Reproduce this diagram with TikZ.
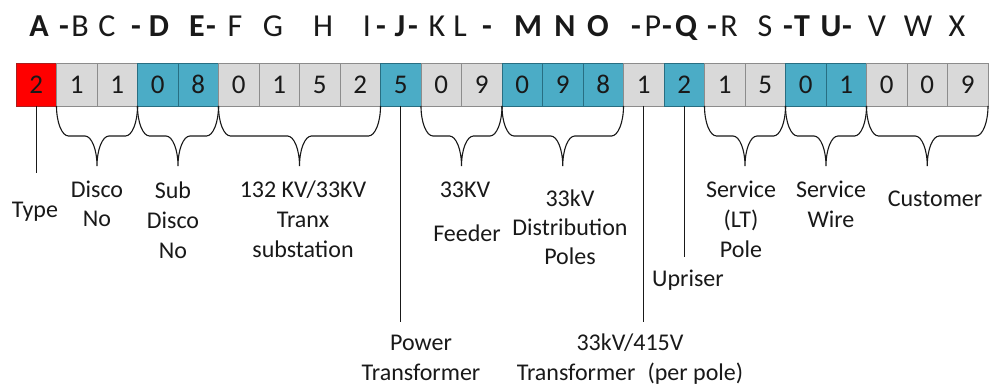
\documentclass[tikz,border=0pt]{standalone}
\usepackage{fontspec}
\setmainfont{Carlito}
\usetikzlibrary{calc}
\definecolor{cred}{RGB}{255,0,0}
\definecolor{credb}{RGB}{170,30,30}
\definecolor{cblue}{RGB}{75,172,198}
\definecolor{cblueb}{RGB}{40,110,130}
\definecolor{cgrey}{RGB}{217,217,217}
\definecolor{cgreyb}{RGB}{140,140,140}
\definecolor{ink}{RGB}{25,25,25}
\newcommand\stack[1]{\begin{tabular}[t]{@{}c@{}}#1\end{tabular}}
\newcommand\cbrace[2]{%
  \draw[ln] let \p1=(#1.south west), \p2=(#2.south east),
    \p3=($(#1.south west)!0.5!(#2.south east)$) in
    (\p1) .. controls (\x1,\y1-16.5pt) and (\x1+5.4pt,\y1-30pt) .. (\x1+12pt,\y1-30pt)
    -- (\x3-12pt,\y1-30pt) .. controls (\x3-5.4pt,\y1-30pt) and (\x3,\y1-43.5pt) .. (\x3,\y1-60pt)
    .. controls (\x3,\y1-43.5pt) and (\x3+5.4pt,\y1-30pt) .. (\x3+12pt,\y1-30pt)
    -- (\x2-12pt,\y1-30pt) .. controls (\x2-5.4pt,\y1-30pt) and (\x2,\y1-16.5pt) .. (\p2);%
}
\tikzset{
  cell/.style={minimum width=40.5pt, minimum height=43pt, inner sep=0pt, outer sep=0pt,
    line width=0.8pt, text=ink, font=\fontsize{27}{27}\selectfont},
  red/.style={fill=cred, draw=credb},
  blu/.style={fill=cblue, draw=cblueb},
  gry/.style={fill=cgrey, draw=cgreyb},
  hdr/.style={anchor=base, inner sep=0pt, text=ink, font=\fontsize{32}{32}\selectfont},
  lab/.style={anchor=base, inner sep=0pt, text=ink, font=\fontsize{24}{30}\selectfont},
  ln/.style={draw=ink, line width=1.1pt}
}
\begin{document}
\begin{tikzpicture}[x=1pt,y=-1pt]
\useasboundingbox[fill=white] (0,0) rectangle (989,385);
% header letters
\foreach \xx/\tt [count=\i] in {
  39/\bfseries A, 64/\bfseries -, 80/B, 107/C, 136/\bfseries -, 159/\bfseries D,
  197/\bfseries E, 211/\bfseries -, 235/F, 273/G, 323/H, 367/I, 381/\bfseries -,
  400/\bfseries J, 413/\bfseries -, 437/K, 460/L, 487/\bfseries -,
  528/\bfseries M, 565/\bfseries N, 598/\bfseries O, 636/\bfseries -, 653/P,
  667/\bfseries -, 686/\bfseries Q, 712/\bfseries -, 729/R, 765/S, 788/\bfseries -,
  802/\bfseries T, 831/\bfseries U, 847/\bfseries -, 877/V, 918/W, 957/X}
  \node[hdr] (h\i) at (\xx,37) {\tt};
% cells
\foreach \d/\s [count=\i] in {2/red,1/gry,1/gry,0/blu,8/blu,0/gry,1/gry,5/gry,2/gry,
  5/blu,0/gry,9/gry,0/blu,9/blu,8/blu,1/gry,2/blu,1/gry,5/gry,0/blu,1/blu,0/gry,0/gry,9/gry}
  \node[cell,\s] (c\i) at ({16+40.5*(\i-0.5)},84.5) {\d};
% braces
\cbrace{c2}{c3}
\cbrace{c4}{c5}
\cbrace{c6}{c9}
\cbrace{c11}{c12}
\cbrace{c13}{c15}
\cbrace{c18}{c19}
\cbrace{c20}{c21}
\cbrace{c22}{c24}
% single lines
\coordinate (typeend) at (c1.south |- 0,173);
\coordinate (pwrend) at (c10.south |- 0,322);
\coordinate (trend) at (c16.south |- 0,322);
\coordinate (uprend) at (c17.south |- 0,257);
\draw[ln] (c1.south) -- (typeend);
\draw[ln] (c10.south) -- (pwrend);
\draw[ln] (c16.south) -- (trend);
\draw[ln] (c17.south) -- (uprend);
% labels
\node[lab] (ltype) at (35,218) {Type};
\node[lab] (ldisco) at (97,197) {\stack{Disco\\No}};
\node[lab] (lsub) at (173,199) {\stack{Sub\\Disco\\No}};
\node[lab] (ltranx) at (303,198) {\stack{132 KV/33KV\\Tranx\\substation}};
\node[lab] (lfeed) at (465,198) {33KV};
\node[lab] (lfeeder) at (467,242) {Feeder};
\node[lab, font=\fontsize{24}{29}\selectfont] (ldist) at (570,207) {\stack{33kV\\Distribution\\Poles}};
\node[lab] (lupr) at (688,286) {Upriser};
\node[lab] (lslt) at (741,198) {\stack{Service\\(LT)\\Pole}};
\node[lab] (lwire) at (831,198) {\stack{Service\\Wire}};
\node[lab] (lcust) at (935,207) {Customer};
\node[lab] (lpower) at (421,350) {\stack{Power\\Transformer}};
\node[lab] (ltr) at (630,350) {\stack{33kV/415V\\Transformer\hspace{12pt}(per pole)}};
\end{tikzpicture}
\end{document}
